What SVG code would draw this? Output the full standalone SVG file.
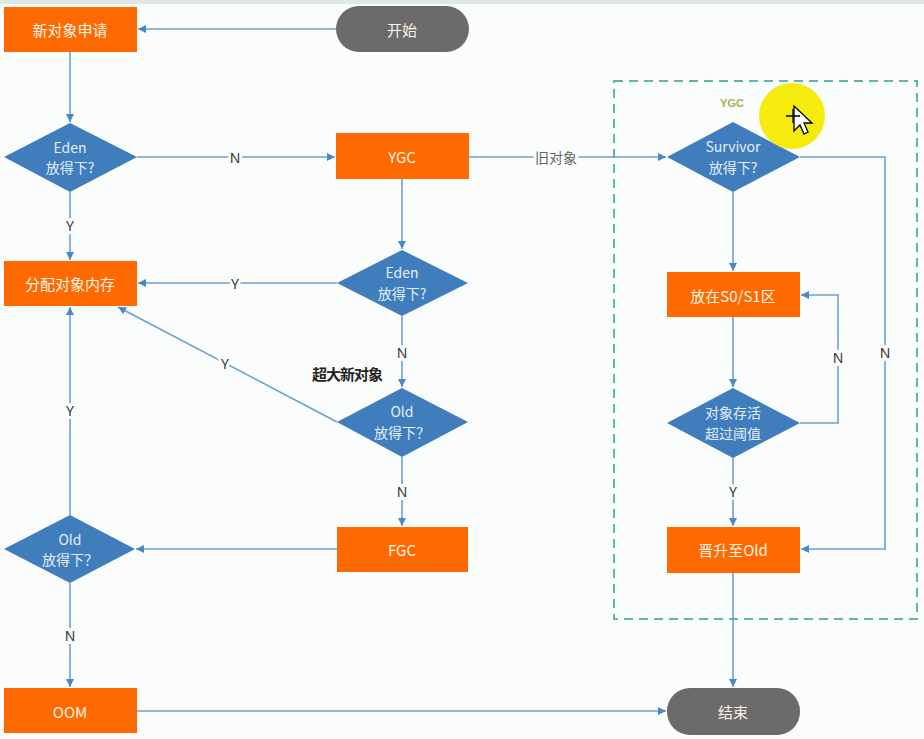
<svg xmlns="http://www.w3.org/2000/svg" width="924" height="739" viewBox="0 0 924 739">
<style>
.proc{fill:#ff6a00}
.dec{fill:#3f7dbd}
.term{fill:#6b6b6b}
.nt{font-family:"Noto Sans CJK SC","Noto Sans",sans-serif;font-size:15px;fill:#fff4ea;text-anchor:middle;dominant-baseline:central}
.dt{font-family:"Noto Sans CJK SC","Noto Sans",sans-serif;font-size:14px;fill:#e6eef8;text-anchor:middle;dominant-baseline:central}
.ln{fill:none;stroke:#6d9fd2;stroke-width:1.6}
.lb{font-family:"Noto Sans","Noto Sans CJK SC",sans-serif;font-size:14px;fill:#333;text-anchor:middle;dominant-baseline:central;stroke:#fbfcfc;stroke-width:6px;paint-order:stroke}
</style>
<defs>
<marker id="ah" viewBox="0 0 10 10" refX="10" refY="5" markerWidth="8" markerHeight="8" markerUnits="userSpaceOnUse" orient="auto">
<path d="M0,0 L10,5 L0,10 z" fill="#4a86c8"/>
</marker>
</defs>
<rect x="0" y="0" width="924" height="739" fill="#fbfcfc"/>
<rect x="0" y="0" width="924" height="4" fill="#dfe9e4"/>

<g id="group-ygc">
<rect x="614" y="81" width="303" height="538" fill="none" stroke="#63b5a6" stroke-width="2" stroke-dasharray="9,6"/>
<text x="732" y="103" font-family="Liberation Sans,sans-serif" font-size="11" font-weight="bold" fill="#a3b24f" text-anchor="middle" dominant-baseline="central">YGC</text>
</g>

<g id="connectors">
<line class="ln" x1="336" y1="29" x2="138" y2="29" marker-end="url(#ah)"/>
<line class="ln" x1="70" y1="52" x2="70" y2="122" marker-end="url(#ah)"/>
<line class="ln" x1="137" y1="157" x2="335" y2="157" marker-end="url(#ah)"/>
<line class="ln" x1="70" y1="192" x2="70" y2="260" marker-end="url(#ah)"/>
<line class="ln" x1="402" y1="179" x2="402" y2="249" marker-end="url(#ah)"/>
<line class="ln" x1="337" y1="283" x2="138" y2="283" marker-end="url(#ah)"/>
<line class="ln" x1="402" y1="316" x2="402" y2="387" marker-end="url(#ah)"/>
<line class="ln" x1="337" y1="422" x2="118" y2="307" marker-end="url(#ah)"/>
<line class="ln" x1="402" y1="457" x2="402" y2="526" marker-end="url(#ah)"/>
<line class="ln" x1="337" y1="549" x2="136" y2="549" marker-end="url(#ah)"/>
<line class="ln" x1="70" y1="515" x2="70" y2="307" marker-end="url(#ah)"/>
<line class="ln" x1="70" y1="583" x2="70" y2="687" marker-end="url(#ah)"/>
<line class="ln" x1="137" y1="711" x2="666" y2="711" marker-end="url(#ah)"/>
<line class="ln" x1="469" y1="157" x2="666" y2="157" marker-end="url(#ah)"/>
<line class="ln" x1="733" y1="192" x2="733" y2="271" marker-end="url(#ah)"/>
<polyline class="ln" points="800,157 885,157 885,549 801,549" marker-end="url(#ah)"/>
<line class="ln" x1="733" y1="317" x2="733" y2="387" marker-end="url(#ah)"/>
<polyline class="ln" points="800,423 838,423 838,295 801,295" marker-end="url(#ah)"/>
<line class="ln" x1="733" y1="458" x2="733" y2="526" marker-end="url(#ah)"/>
<line class="ln" x1="733" y1="573" x2="733" y2="687" marker-end="url(#ah)"/>
<text class="lb" x="235" y="157">N</text>
<text class="lb" x="70" y="225">Y</text>
<text class="lb" x="235" y="283">Y</text>
<text class="lb" x="402" y="352">N</text>
<text x="347" y="373" font-family="Noto Sans CJK SC,sans-serif" font-size="15" font-weight="bold" fill="#222" text-anchor="middle" dominant-baseline="central" letter-spacing="-1">超大新对象</text>
<text class="lb" x="225" y="363">Y</text>
<text class="lb" x="402" y="491">N</text>
<text class="lb" x="70" y="410">Y</text>
<text class="lb" x="70" y="635">N</text>
<text class="lb" x="556" y="157" style="fill:#666">旧对象</text>
<text class="lb" x="885" y="352">N</text>
<text class="lb" x="838" y="357">N</text>
<text class="lb" x="733" y="491">Y</text>
</g>

<g id="n-start"><rect class="term" x="336" y="6" width="133" height="46" rx="23"/><text class="nt" x="402" y="29">开始</text></g>
<g id="n-new"><rect class="proc" x="4" y="7" width="133" height="45"/><text class="nt" x="70" y="29">新对象申请</text></g>
<g id="n-eden1"><polygon class="dec" points="70,123 137,157 70,192 4,157"/><text class="dt" x="70" y="147">Eden</text><text class="dt" x="70" y="167">放得下?</text></g>
<g id="n-ygc"><rect class="proc" x="336" y="133" width="133" height="46"/><text class="nt" x="402" y="156">YGC</text></g>
<g id="n-alloc"><rect class="proc" x="4" y="261" width="133" height="45"/><text class="nt" x="70" y="283">分配对象内存</text></g>
<g id="n-eden2"><polygon class="dec" points="402,250 468,283 402,316 337,283"/><text class="dt" x="402" y="272">Eden</text><text class="dt" x="402" y="293">放得下?</text></g>
<g id="n-old1"><polygon class="dec" points="402,388 468,422 402,457 337,422"/><text class="dt" x="402" y="411">Old</text><text class="dt" x="402" y="432">放得下？</text></g>
<g id="n-fgc"><rect class="proc" x="337" y="527" width="131" height="45"/><text class="nt" x="402" y="549">FGC</text></g>
<g id="n-old2"><polygon class="dec" points="70,515 135,549 70,583 4,549"/><text class="dt" x="70" y="539">Old</text><text class="dt" x="70" y="559">放得下？</text></g>
<g id="n-oom"><rect class="proc" x="4" y="688" width="133" height="45"/><text class="nt" x="70" y="711">OOM</text></g>
<g id="n-end"><rect class="term" x="667" y="688" width="133" height="47" rx="23"/><text class="nt" x="733" y="711">结束</text></g>
<g id="n-survivor"><polygon class="dec" points="733,122 800,157 733,192 667,157"/><text class="dt" x="733" y="146">Survivor</text><text class="dt" x="733" y="167">放得下?</text></g>
<g id="n-s0s1"><rect class="proc" x="667" y="272" width="133" height="45"/><text class="nt" x="733" y="295">放在S0/S1区</text></g>
<g id="n-age"><polygon class="dec" points="733,388 800,423 733,458 667,423"/><text class="dt" x="733" y="412">对象存活</text><text class="dt" x="733" y="433">超过阈值</text></g>
<g id="n-promote"><rect class="proc" x="667" y="527" width="133" height="46"/><text class="nt" x="733" y="549">晋升至Old</text></g>

<g id="cursor">
<circle cx="792" cy="116" r="33" fill="#f4ea00" opacity="0.95"/>
<path d="M794,106 L794,131 L800,125 L804,134 L808,132 L804,123 L812,123 z" fill="#fff" stroke="#000" stroke-width="1.3"/>
<path d="M786,116 L800,116 M793,109 L793,123" stroke="#000" stroke-width="1.3"/>
</g>
</svg>
